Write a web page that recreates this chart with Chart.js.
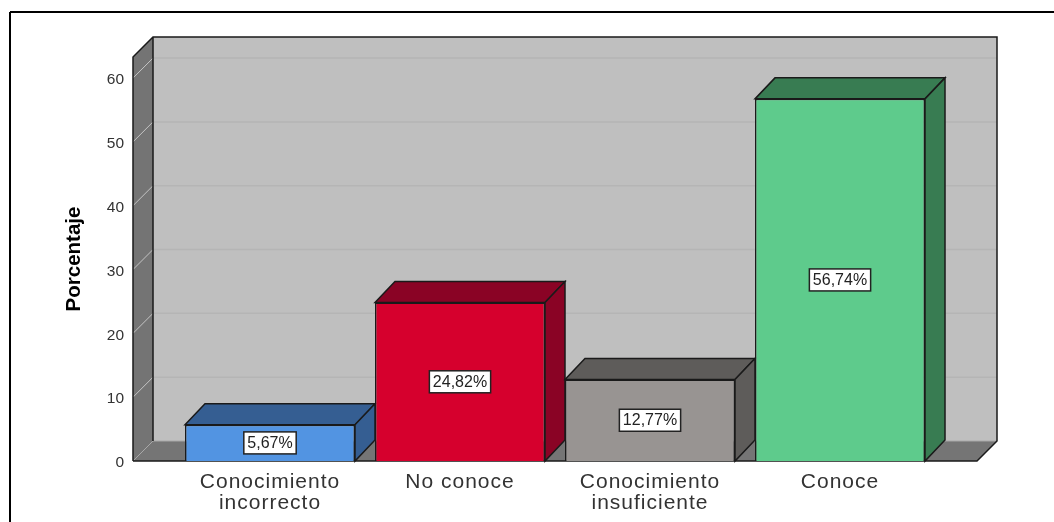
<!DOCTYPE html>
<html>
<head>
<meta charset="utf-8">
<style>
  html, body { margin: 0; padding: 0; background: #fff; overflow: hidden; }
  canvas { display: block; }
</style>
<script src="https://cdn.jsdelivr.net/npm/chart.js@4/dist/chart.umd.min.js"></script>
</head>
<body>
<canvas id="chart" width="1054" height="522"></canvas>
<script>
const categories = [['Conocimiento', 'incorrecto'], 'No conoce', ['Conocimiento', 'insuficiente'], 'Conoce'];
const percentages = [5.67, 24.82, 12.77, 56.74];
const valueLabels = ['5,67%', '24,82%', '12,77%', '56,74%'];
const yTicks = [0, 10, 20, 30, 40, 50, 60];
const frontColors = ['#5294e2', '#d6002d', '#989492', '#5ecb8c'];
const depthColors = ['#355e92', '#8a0325', '#5e5c5a', '#387c52'];

const FONT = '"Liberation Sans", Arial, sans-serif';
const DEPTH_X = 20;
const DEPTH_Y = 21;
const LEFT_WALL = 133;
const RIGHT_FLOOR = 977;

function poly(ctx, pts, fill, stroke) {
    ctx.beginPath();
    pts.forEach((p, i) => i ? ctx.lineTo(p[0], p[1]) : ctx.moveTo(p[0], p[1]));
    ctx.closePath();
    if (fill) {
        ctx.fillStyle = fill;
        ctx.fill();
    }
    if (stroke) {
        ctx.strokeStyle = stroke;
        ctx.stroke();
    }
}

function line(ctx, x0, y0, x1, y1, color, width) {
    ctx.beginPath();
    ctx.moveTo(x0, y0);
    ctx.lineTo(x1, y1);
    ctx.strokeStyle = color;
    ctx.lineWidth = width;
    ctx.stroke();
}

const box3d = {
    id: 'box3d',
    beforeDraw(chart) {
        const ctx = chart.ctx;
        const y = chart.scales.y;
        const top = y.top;
        const bottom = y.bottom;
        ctx.save();

        // outer frame, cut by the right and bottom edge of the picture
        line(ctx, 10, 522, 10, 12, '#000', 2);
        line(ctx, 10, 12, 1054, 12, '#000', 2);

        // back wall
        ctx.fillStyle = '#bfbfbf';
        ctx.fillRect(LEFT_WALL + DEPTH_X, top - DEPTH_Y + 1, RIGHT_FLOOR - LEFT_WALL, bottom - top);

        // left wall and floor
        poly(ctx, [[LEFT_WALL, top], [LEFT_WALL + DEPTH_X, top - DEPTH_Y + 1], [LEFT_WALL + DEPTH_X, bottom - DEPTH_Y + 1], [LEFT_WALL, bottom]], '#747474');
        poly(ctx, [[LEFT_WALL, bottom], [LEFT_WALL + DEPTH_X, bottom - DEPTH_Y + 1], [RIGHT_FLOOR + DEPTH_X, bottom - DEPTH_Y + 1], [RIGHT_FLOOR, bottom]], '#757575');

        // grid lines on both walls
        yTicks.forEach(v => {
            if (v === 0) return;
            const py = y.getPixelForValue(v);
            line(ctx, LEFT_WALL, py, LEFT_WALL + DEPTH_X, py - DEPTH_Y + 1, '#c4c4c4', 1);
            line(ctx, LEFT_WALL + DEPTH_X, py - DEPTH_Y + 1, RIGHT_FLOOR + DEPTH_X, py - DEPTH_Y + 1, '#b5b5b5', 1.5);
        });
        line(ctx, LEFT_WALL, bottom, LEFT_WALL + DEPTH_X, bottom - DEPTH_Y + 1, '#a8a8a8', 1);
        line(ctx, LEFT_WALL + DEPTH_X, bottom - DEPTH_Y + 1, RIGHT_FLOOR + DEPTH_X, bottom - DEPTH_Y + 1, '#a8a8a8', 1);

        // wall outlines
        ctx.lineWidth = 1.5;
        ctx.strokeStyle = '#1a1a1a';
        ctx.beginPath();
        ctx.moveTo(LEFT_WALL, bottom);
        ctx.lineTo(LEFT_WALL, top);
        ctx.lineTo(LEFT_WALL + DEPTH_X, top - DEPTH_Y + 1);
        ctx.lineTo(RIGHT_FLOOR + DEPTH_X, top - DEPTH_Y + 1);
        ctx.lineTo(RIGHT_FLOOR + DEPTH_X, bottom - DEPTH_Y + 1);
        ctx.lineTo(RIGHT_FLOOR, bottom);
        ctx.lineTo(LEFT_WALL, bottom);
        ctx.moveTo(LEFT_WALL + DEPTH_X, top - DEPTH_Y + 1);
        ctx.lineTo(LEFT_WALL + DEPTH_X, bottom - DEPTH_Y + 1);
        ctx.stroke();
        ctx.restore();

        // tick numbers sit a little below their grid line in the original
        y.getLabelItems().forEach(item => { item.options.translation[1] += 2; });
    },
    beforeDatasetsDraw(chart) {
        const ctx = chart.ctx;
        ctx.save();
        ctx.lineWidth = 1.5;
        chart.getDatasetMeta(0).data.forEach((bar, i) => {
            const p = bar.getProps(['x', 'y', 'base', 'width'], true);
            const x0 = p.x - p.width / 2;
            const x1 = p.x + p.width / 2;
            poly(ctx, [[x0, p.y], [x0 + DEPTH_X, p.y - DEPTH_Y], [x1 + DEPTH_X, p.y - DEPTH_Y], [x1, p.y]], depthColors[i], '#1a1a1a');
            poly(ctx, [[x1, p.y], [x1 + DEPTH_X, p.y - DEPTH_Y], [x1 + DEPTH_X, p.base - DEPTH_Y], [x1, p.base]], depthColors[i], '#1a1a1a');
        });
        ctx.restore();
    },
    afterDatasetsDraw(chart) {
        const ctx = chart.ctx;
        ctx.save();
        ctx.font = '16px ' + FONT;
        ctx.textAlign = 'center';
        ctx.textBaseline = 'middle';
        chart.getDatasetMeta(0).data.forEach((bar, i) => {
            const p = bar.getProps(['x', 'y', 'base'], true);
            const cy = (p.y + p.base) / 2;
            const w = ctx.measureText(valueLabels[i]).width + 7;
            ctx.fillStyle = '#fff';
            ctx.fillRect(p.x - w / 2, cy - 11, w, 22);
            ctx.strokeStyle = '#222';
            ctx.lineWidth = 1.5;
            ctx.strokeRect(p.x - w / 2, cy - 11, w, 22);
            ctx.fillStyle = '#222';
            ctx.fillText(valueLabels[i], p.x, cy + 0.5);
        });
        ctx.restore();
        // the category labels are drawn right after this, wider than the font
        ctx.letterSpacing = '1px';
    },
    afterDraw(chart) {
        chart.ctx.letterSpacing = '0px';
    }
};

new Chart(document.getElementById('chart'), {
    type: 'bar',
    data: {
        labels: categories,
        datasets: [{
            data: percentages,
            backgroundColor: frontColors,
            borderColor: '#1a1a1a',
            borderWidth: 1.5,
            barPercentage: 170 / 190,
            categoryPercentage: 1
        }]
    },
    plugins: [box3d],
    options: {
        responsive: false,
        animation: false,
        events: [],
        layout: { padding: { top: 57, right: 119, left: 0, bottom: 0 } },
        plugins: { legend: { display: false }, tooltip: { enabled: false } },
        scales: {
            x: {
                grid: { display: false },
                border: { display: false },
                afterFit(scale) { scale.height = 61; },
                ticks: {
                    z: 1,
                    autoSkip: false,
                    maxRotation: 0,
                    padding: 3,
                    color: '#333',
                    font: { family: FONT, size: 21, lineHeight: 1 }
                }
            },
            y: {
                min: 0,
                max: 63.3,
                grid: { display: false },
                border: { display: false },
                afterFit(scale) { scale.width = 175; },
                title: {
                    display: true,
                    text: 'Porcentaje',
                    color: '#000',
                    padding: { top: 62, bottom: 0 },
                    font: { family: FONT, size: 20.5, weight: 'bold', lineHeight: 1.2 }
                },
                ticks: {
                    stepSize: 10,
                    includeBounds: false,
                    padding: 43,
                    color: '#333',
                    font: { family: FONT, size: 15.5 }
                }
            }
        }
    }
});
</script>
</body>
</html>
